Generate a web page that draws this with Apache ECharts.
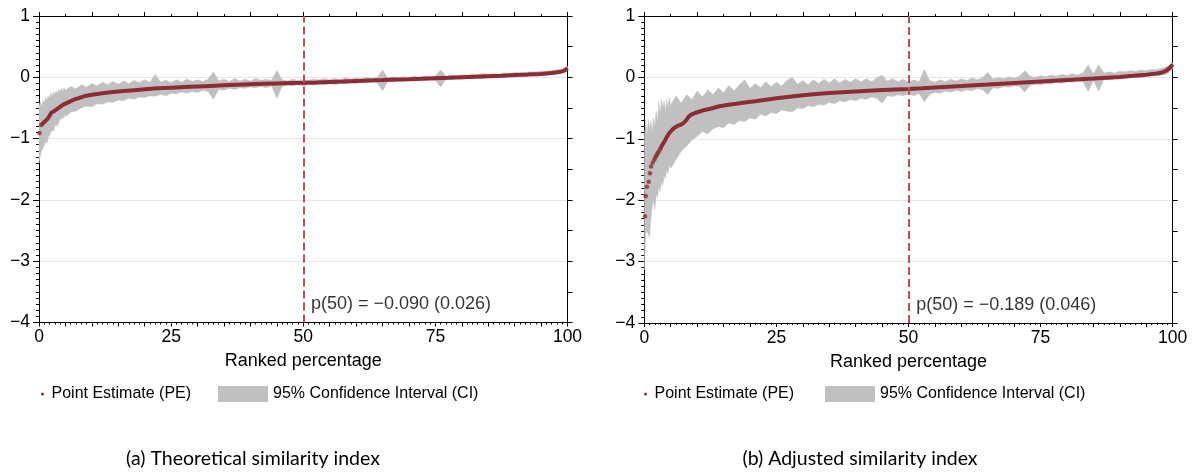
<!DOCTYPE html>
<html><head><meta charset="utf-8">
<script src="https://cdn.jsdelivr.net/npm/echarts@6/dist/echarts.min.js"></script>
<style>html,body{margin:0;padding:0;background:#fff}#c{width:1194px;height:473px}</style>
</head><body><div id="c"></div>
<script>
// ---- data ----
const xTicks = [0, 25, 50, 75, 100];
const yTicks = [1, 0, -1, -2, -3, -4];
const captions = ['(a) Theoretical similarity index', '(b) Adjusted similarity index'];
const notes = ['p(50) = \u22120.090 (0.026)', 'p(50) = \u22120.189 (0.046)'];
const medianX = 50;

const xsCI = [0,0.25,0.5,0.75,1,1.25,1.5,1.75,2,2.25,2.5,2.75,3,3.25,3.5,3.75,4,4.25,4.5,4.75,5,
 6,7,8,9,10,11,12,13,14,15,16,17,18,19,20,21,22,23,24,25,26,27,28,29,30,31,32,33,34,35,36,37,38,39,40,
 41,42,43,44,45,46,47,48,49,50,51,52,53,54,55,56,57,58,59,60,61,62,63,64,65,66,67,68,69,70,
 71,72,73,74,75,76,77,78,79,80,81,82,83,84,85,86,87,88,89,90,91,92,93,94,95,96,97,98,99,100];

const ciHiA = [-0.45,-0.40,-0.48,-0.38,-0.42,-0.33,-0.38,-0.30,-0.34,-0.26,-0.31,-0.24,-0.28,-0.22,-0.26,-0.20,-0.24,-0.18,-0.23,-0.17,-0.21,
 -0.15,-0.19,-0.12,-0.16,-0.10,-0.14,-0.08,-0.12,-0.07,-0.11,
 -0.06,-0.10,-0.05,-0.09,-0.04,-0.08,0.05,-0.08,-0.05,-0.09,
 -0.04,-0.08,-0.03,-0.07,-0.04,-0.07,-0.03,0.09,-0.06,-0.03,
 -0.07,-0.02,-0.06,-0.03,-0.06,-0.02,-0.05,-0.03,-0.05,0.11,
 -0.04,-0.06,-0.03,-0.05,-0.04,-0.05,-0.03,-0.04,-0.02,-0.04,
 -0.02,-0.04,-0.01,-0.03,-0.01,-0.03,0.00,-0.02,0.00,0.12,
 -0.01,0.01,-0.01,0.01,0.00,0.02,0.00,0.02,0.01,0.02,
 0.12,0.02,0.03,0.02,0.04,0.03,0.05,0.04,0.06,0.05,
 0.06,0.05,0.07,0.06,0.08,0.07,0.08,0.09,0.09,0.10,
 0.10,0.11,0.12,0.14,0.18];
const ciLoA = [-1.40,-1.28,-1.20,-1.15,-1.10,-1.05,-1.08,-0.98,-0.95,-0.90,-0.86,-0.88,-0.80,-0.76,-0.80,-0.72,-0.70,-0.66,-0.68,-0.62,-0.64,
 -0.57,-0.55,-0.50,-0.47,-0.48,-0.43,-0.44,-0.40,-0.41,-0.37,
 -0.38,-0.34,-0.36,-0.32,-0.33,-0.30,-0.31,-0.28,-0.30,-0.26,
 -0.27,-0.24,-0.26,-0.23,-0.25,-0.21,-0.23,-0.36,-0.20,-0.21,
 -0.18,-0.20,-0.17,-0.18,-0.16,-0.17,-0.15,-0.17,-0.14,-0.34,
 -0.15,-0.13,-0.14,-0.12,-0.14,-0.12,-0.13,-0.11,-0.12,-0.10,
 -0.12,-0.10,-0.11,-0.09,-0.10,-0.08,-0.09,-0.07,-0.09,-0.22,
 -0.07,-0.08,-0.06,-0.07,-0.05,-0.06,-0.04,-0.05,-0.04,-0.05,
 -0.16,-0.03,-0.04,-0.02,-0.03,-0.02,-0.02,-0.01,-0.02,0.00,
 -0.01,0.00,0.00,0.01,0.00,0.02,0.01,0.03,0.02,0.03,
 0.04,0.04,0.06,0.08,0.11];

const ciHiB = [-1.00,-0.70,-0.95,-0.68,-0.85,-0.70,-0.90,-0.66,-0.80,-0.55,-0.75,-0.40,-0.60,-0.35,-0.52,-0.38,-0.55,-0.36,-0.50,-0.33,-0.45,
 -0.30,-0.42,-0.28,-0.36,-0.22,-0.32,-0.20,-0.28,-0.17,-0.25,
 -0.13,-0.22,-0.12,-0.04,-0.18,-0.10,-0.17,-0.07,-0.15,-0.08,
 -0.14,-0.05,0.00,-0.11,-0.05,-0.12,-0.04,-0.10,-0.03,-0.09,
 -0.02,-0.09,-0.03,-0.08,-0.02,-0.07,-0.02,-0.07,-0.01,0.04,
 -0.06,-0.02,-0.07,-0.03,-0.08,-0.04,-0.07,0.13,-0.05,-0.08,
 -0.04,-0.07,-0.03,-0.06,-0.02,-0.05,-0.01,-0.04,0.00,0.08,
 -0.03,0.00,-0.02,0.01,-0.01,0.02,0.11,0.02,0.00,0.03,
 0.01,0.04,0.02,0.05,0.03,0.06,0.04,0.07,0.20,0.06,
 0.20,0.07,0.09,0.07,0.10,0.09,0.11,0.10,0.12,0.11,
 0.13,0.13,0.15,0.18,0.24];
const ciLoB = [-3.14,-2.55,-2.50,-2.55,-2.60,-2.30,-2.10,-2.00,-2.15,-1.90,-1.95,-1.78,-1.85,-1.70,-1.75,-1.60,-1.65,-1.50,-1.56,-1.42,-1.48,
 -1.34,-1.20,-1.12,-1.02,-0.96,-0.88,-0.92,-0.84,-0.80,-0.82,
 -0.74,-0.77,-0.70,-0.72,-0.66,-0.68,-0.60,-0.63,-0.57,-0.59,
 -0.53,-0.55,-0.56,-0.50,-0.51,-0.46,-0.48,-0.44,-0.45,-0.41,
 -0.43,-0.38,-0.40,-0.36,-0.38,-0.34,-0.36,-0.32,-0.34,-0.42,
 -0.30,-0.31,-0.28,-0.30,-0.27,-0.30,-0.26,-0.40,-0.28,-0.24,
 -0.26,-0.22,-0.24,-0.21,-0.23,-0.20,-0.22,-0.18,-0.20,-0.28,
 -0.17,-0.18,-0.15,-0.16,-0.14,-0.15,-0.24,-0.13,-0.11,-0.12,
 -0.10,-0.11,-0.08,-0.10,-0.07,-0.08,-0.06,-0.07,-0.23,-0.05,
 -0.22,-0.03,-0.04,-0.02,-0.03,-0.01,-0.01,0.00,0.00,0.01,
 0.02,0.03,0.04,0.06,0.14];

const peXA = [0.1,0.4,1.0,1.5,2.0,2.3,2.7,3.2,3.7,4.5,5.5,6.5,7.5,8.5,10,12,14,16,18,20,22.5,25,27.5,30,32.5,35,37.5,40,42.5,45,
 47.5,50,52.5,55,57.5,60,62.5,65,67.5,70,72.5,75,77.5,80,82.5,85,87.5,90,92.5,95,97,98.5,99.3,99.7,100];
const peA = [-0.91,-0.78,-0.73,-0.69,-0.63,-0.58,-0.56,-0.53,-0.50,-0.45,-0.41,-0.37,-0.34,-0.31,-0.285,-0.26,-0.24,-0.225,-0.21,-0.195,
 -0.18,-0.17,-0.16,-0.15,-0.14,-0.13,-0.122,-0.114,-0.106,-0.10,-0.095,-0.09,-0.083,-0.075,-0.068,-0.06,-0.052,-0.045,-0.037,-0.03,
 -0.022,-0.015,-0.008,0.0,0.008,0.016,0.024,0.036,0.045,0.055,0.07,0.085,0.105,0.125,0.15];

const peXB = [0.13,0.26,0.5,0.83,1.08,1.27,1.6,1.9,2.1,2.3,2.5,2.7,3.0,3.4,3.8,4.2,4.7,5.2,5.7,6.3,6.9,7.4,7.9,8.3,8.8,9.6,11,12.5,14.2,16,
 17.4,19,21,23,25,27.5,30,32.5,35,37.5,40,42.5,45,47.5,50,52.5,55,57.5,60,62.5,65,67.5,70,72.5,75,77.5,80,82.5,85,87.5,90,92.5,95,97,98,98.8,99.4,100];
const peB = [-2.26,-1.93,-1.78,-1.70,-1.56,-1.45,-1.39,-1.34,-1.30,-1.27,-1.24,-1.21,-1.17,-1.10,-1.045,-0.98,-0.91,-0.86,-0.82,-0.79,
 -0.77,-0.745,-0.70,-0.65,-0.61,-0.58,-0.54,-0.51,-0.47,-0.445,-0.43,-0.41,-0.39,-0.365,-0.34,-0.315,-0.29,-0.27,-0.255,-0.24,
 -0.228,-0.217,-0.207,-0.198,-0.189,-0.178,-0.165,-0.152,-0.14,-0.127,-0.115,-0.102,-0.09,-0.078,-0.066,-0.054,-0.042,-0.03,-0.018,-0.005,
 0.008,0.025,0.045,0.065,0.08,0.11,0.15,0.21];

// ---- styling / layout ----
const FONT = '"Liberation Sans", Arial, Helvetica, sans-serif';
const PE_COLOR = '#8c2c35';
const CI_COLOR = '#c0c0c0';
const DASH_COLOR = '#b5545f';
const GRID_COLOR = '#e1e7ef';
const PE_NAME = 'Point Estimate (PE)';
const CI_NAME = '95% Confidence Interval (CI)';

const grids = [
  {left: 39, top: 16, width: 528.5, height: 306.5},
  {left: 644.3, top: 16, width: 528.4, height: 307}
];
const panels = [
  {xs: xsCI, hi: ciHiA, lo: ciLoA, peX: peXA, pe: peA, dotsEnd: 2, lineStart: 1, note: notes[0], noteX: 50.6, cap: captions[0], capX: 253, legPE: 41, legCI: 218},
  {xs: xsCI, hi: ciHiB, lo: ciLoB, peX: peXB, pe: peB, dotsEnd: 13, lineStart: 12, note: notes[1], noteX: 50.6, cap: captions[1], capX: 860, legPE: 644, legCI: 825}
];

const pairs = (xs, ys) => xs.map((x, i) => [x, ys[i]]);
const fmtY = v => yTicks.indexOf(v) >= 0 ? String(v).replace('-', '\u2212') : '';
const fmtX = v => xTicks.indexOf(v) >= 0 ? String(v) : '';
const black = {color: '#000', width: 1};

const xAxis = [], yAxis = [], series = [], legend = [], graphic = [];
panels.forEach((p, i) => {
  xAxis.push({
    type: 'value', gridIndex: i, position: 'bottom', min: 0, max: 100, interval: 5,
    axisLine: {onZero: false, lineStyle: black},
    axisTick: {length: 4, lineStyle: black},
    minorTick: {show: true, splitNumber: 5, length: 2, lineStyle: black},
    splitLine: {show: false},
    axisLabel: {formatter: fmtX, color: '#000', fontSize: 17.5, fontFamily: FONT, margin: 6},
    name: 'Ranked percentage', nameLocation: 'middle', nameGap: 30,
    nameTextStyle: {color: '#000', fontSize: 18, fontFamily: FONT}
  });
  xAxis.push({
    type: 'value', gridIndex: i, position: 'top', min: 0, max: 100, interval: 10,
    axisLine: {onZero: false, lineStyle: black},
    axisTick: {length: 4, lineStyle: black},
    minorTick: {show: true, splitNumber: 2, length: 2, lineStyle: black},
    splitLine: {show: false}, axisLabel: {show: false}
  });
  yAxis.push({
    type: 'value', gridIndex: i, position: 'left', min: -4, max: 1, interval: 1,
    axisLine: {show: true, onZero: false, lineStyle: black},
    axisTick: {show: true, length: 6, lineStyle: black},
    minorTick: {show: true, splitNumber: 10, length: 3, lineStyle: black},
    splitLine: {show: true, lineStyle: {color: GRID_COLOR, width: 1}},
    axisLabel: {formatter: fmtY, color: '#000', fontSize: 17.5, fontFamily: FONT, margin: 9}
  });
  yAxis.push({
    type: 'value', gridIndex: i, position: 'right', min: -4, max: 1, interval: 0.5,
    axisLine: {show: true, onZero: false, lineStyle: black},
    axisTick: {show: true, length: 5, lineStyle: black},
    splitLine: {show: false}, axisLabel: {show: false}
  });
  const xi = 2 * i, yi = 2 * i;
  // confidence band: one polygon through the upper bounds and back along the lower bounds
  series.push({
    type: 'custom', name: CI_NAME, xAxisIndex: xi, yAxisIndex: yi,
    data: pairs(p.xs, p.hi), encode: {x: 0, y: 1},
    silent: true, z: 2, animation: false, itemStyle: {color: CI_COLOR},
    renderItem: (params, api) => {
      if (params.dataIndex !== 0) return null;
      const pts = [];
      for (let k = 0; k < p.xs.length; k++) pts.push(api.coord([p.xs[k], p.hi[k]]));
      for (let k = p.xs.length - 1; k >= 0; k--) pts.push(api.coord([p.xs[k], p.lo[k]]));
      return {type: 'polygon', shape: {points: pts}, style: {fill: CI_COLOR, stroke: CI_COLOR, lineWidth: 0.5}};
    }
  });
  const peData = pairs(p.peX, p.pe);
  series.push({
    type: 'line', name: PE_NAME, xAxisIndex: xi, yAxisIndex: yi,
    data: peData.slice(p.lineStart), symbol: 'none',
    lineStyle: {color: PE_COLOR, width: 4}, itemStyle: {color: PE_COLOR},
    silent: true, z: 4, animation: false,
    markLine: {
      symbol: 'none', silent: true, animation: false,
      lineStyle: {color: DASH_COLOR, width: 2, type: [8, 4]},
      label: {show: false},
      data: [{xAxis: medianX}]
    }
  });
  series.push({
    type: 'scatter', name: PE_NAME, xAxisIndex: xi, yAxisIndex: yi,
    data: peData.slice(0, p.dotsEnd), symbol: 'circle', symbolSize: 4.5,
    itemStyle: {color: PE_COLOR}, silent: true, z: 5, animation: false
  });
  series.push({
    type: 'scatter', name: 'note' + i, xAxisIndex: xi, yAxisIndex: yi,
    data: [[p.noteX, -3.7]], symbol: 'circle', symbolSize: 1,
    itemStyle: {color: 'rgba(0,0,0,0)'}, silent: true, z: 6, animation: false,
    label: {show: true, position: 'right', distance: 4, formatter: p.note,
            color: '#000', fontSize: 18, fontFamily: FONT}
  });
  legend.push({
    data: [{name: PE_NAME, icon: 'circle', itemStyle: {color: PE_COLOR}}],
    left: p.legPE, top: 386, padding: 0, itemWidth: 8, itemHeight: 3, selectedMode: false,
    textStyle: {color: '#000', fontSize: 16, fontFamily: FONT}
  });
  legend.push({
    data: [{name: CI_NAME, icon: 'rect', itemStyle: {color: CI_COLOR}}],
    left: p.legCI, top: 386, padding: 0, itemWidth: 50, itemHeight: 16, selectedMode: false,
    textStyle: {color: '#000', fontSize: 16, fontFamily: FONT}
  });
  graphic.push({
    type: 'text', x: p.capX, y: 459,
    style: {text: p.cap, fill: '#000', fontSize: 19.5, fontFamily: 'Lato, "Open Sans", sans-serif',
            textAlign: 'center', textVerticalAlign: 'middle'}
  });
});

const chart = echarts.init(document.getElementById('c'), null, {renderer: 'canvas'});
chart.setOption({
  animation: false,
  backgroundColor: '#fff',
  grid: grids,
  xAxis, yAxis, series, legend, graphic
});
</script></body></html>
